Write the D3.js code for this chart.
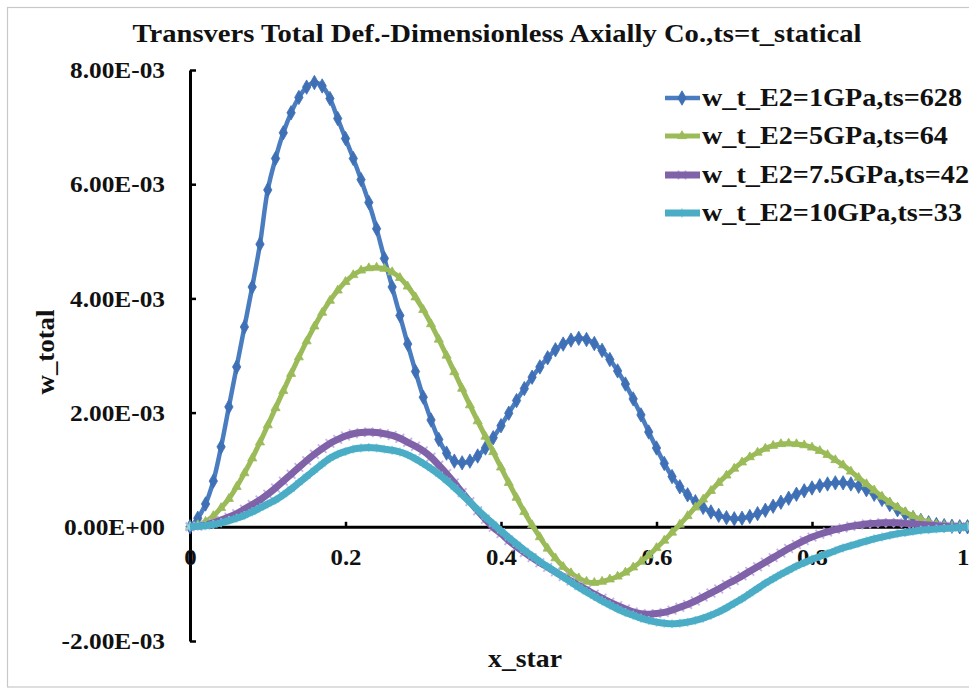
<!DOCTYPE html>
<html>
<head>
<meta charset="utf-8">
<script src="https://cdn.jsdelivr.net/npm/d3@7"></script>
<style>
  html, body { margin: 0; padding: 0; background: #fff; }
  svg { display: block; }
</style>
</head>
<body>
<svg id="chart" width="969" height="689"></svg>
<script>
// x_star sampling grid, 0 to 1 in steps of 0.01
const xStar = d3.range(101).map(i => i / 100);

// transverse total deflection, in units of 1e-3
const wE1 = [
  0, 0.15, 0.40, 0.80, 1.40, 2.10, 2.80, 3.50, 4.20, 4.95,
  5.90, 6.45, 6.90, 7.25, 7.52, 7.70, 7.78, 7.72, 7.50, 7.15,
  6.80, 6.45, 6.08, 5.68, 5.22, 4.70, 4.20, 3.70, 3.20, 2.72,
  2.27, 1.87, 1.53, 1.29, 1.15, 1.12, 1.15, 1.24, 1.38, 1.56,
  1.77, 1.99, 2.21, 2.42, 2.62, 2.80, 2.96, 3.10, 3.20, 3.27,
  3.30, 3.28, 3.21, 3.09, 2.93, 2.73, 2.50, 2.24, 1.96, 1.66,
  1.38, 1.11, 0.88, 0.70, 0.56, 0.44, 0.34, 0.26, 0.20, 0.16,
  0.14, 0.15, 0.18, 0.23, 0.29, 0.36, 0.43, 0.50, 0.57, 0.63,
  0.68, 0.72, 0.75, 0.77, 0.77, 0.75, 0.71, 0.65, 0.57, 0.48,
  0.39, 0.30, 0.22, 0.16, 0.11, 0.07, 0.04, 0.02, 0.01, 0.00,
  0.00
];
const wE5 = [
  0, 0.03, 0.09, 0.19, 0.33, 0.49, 0.70, 0.94, 1.20, 1.48,
  1.78, 2.08, 2.38, 2.68, 2.97, 3.25, 3.51, 3.75, 3.96, 4.14,
  4.29, 4.41, 4.49, 4.53, 4.54, 4.52, 4.46, 4.36, 4.21, 4.02,
  3.80, 3.55, 3.28, 3.00, 2.71, 2.42, 2.13, 1.85, 1.58, 1.31,
  1.04, 0.77, 0.51, 0.26, 0.03, -0.18, -0.38, -0.55, -0.70, -0.81,
  -0.90, -0.96, -0.98, -0.96, -0.92, -0.87, -0.80, -0.71, -0.61, -0.50,
  -0.37, -0.24, -0.10, 0.04, 0.19, 0.34, 0.48, 0.63, 0.77, 0.90,
  1.02, 1.13, 1.22, 1.30, 1.37, 1.42, 1.45, 1.46, 1.45, 1.43,
  1.39, 1.33, 1.26, 1.17, 1.08, 0.97, 0.86, 0.75, 0.64, 0.53,
  0.43, 0.34, 0.26, 0.19, 0.13, 0.08, 0.04, 0.02, 0.01, 0.00,
  0.00
];
const wE75 = [
  0, 0.01, 0.03, 0.07, 0.12, 0.17, 0.23, 0.31, 0.39, 0.47,
  0.57, 0.68, 0.80, 0.92, 1.04, 1.16, 1.27, 1.37, 1.46, 1.53,
  1.59, 1.63, 1.65, 1.66, 1.65, 1.63, 1.60, 1.55, 1.48, 1.41,
  1.33, 1.22, 1.08, 0.93, 0.77, 0.60, 0.44, 0.28, 0.13, -0.01,
  -0.12, -0.24, -0.35, -0.45, -0.54, -0.63, -0.71, -0.79, -0.87, -0.95,
  -1.03, -1.10, -1.18, -1.25, -1.32, -1.38, -1.44, -1.49, -1.52, -1.53,
  -1.52, -1.50, -1.46, -1.41, -1.36, -1.30, -1.23, -1.16, -1.09, -1.01,
  -0.94, -0.86, -0.78, -0.70, -0.62, -0.54, -0.46, -0.38, -0.31, -0.24,
  -0.18, -0.13, -0.09, -0.05, -0.02, 0.01, 0.03, 0.05, 0.06, 0.07,
  0.07, 0.07, 0.06, 0.05, 0.04, 0.03, 0.02, 0.01, 0.00, 0.00,
  0.00
];
const wE10 = [
  0, 0.01, 0.02, 0.04, 0.07, 0.11, 0.15, 0.20, 0.26, 0.33,
  0.40, 0.47, 0.56, 0.66, 0.77, 0.88, 0.99, 1.10, 1.20, 1.27,
  1.32, 1.36, 1.38, 1.39, 1.38, 1.36, 1.34, 1.31, 1.26, 1.19,
  1.11, 1.02, 0.92, 0.81, 0.69, 0.56, 0.43, 0.30, 0.17, 0.05,
  -0.07, -0.19, -0.30, -0.41, -0.51, -0.61, -0.70, -0.79, -0.88, -0.97,
  -1.06, -1.14, -1.22, -1.30, -1.37, -1.44, -1.50, -1.55, -1.60, -1.64,
  -1.67, -1.69, -1.70, -1.69, -1.67, -1.64, -1.60, -1.55, -1.49, -1.42,
  -1.34, -1.26, -1.17, -1.08, -0.99, -0.91, -0.83, -0.76, -0.69, -0.63,
  -0.57, -0.52, -0.47, -0.42, -0.37, -0.33, -0.29, -0.25, -0.21, -0.18,
  -0.15, -0.12, -0.10, -0.08, -0.06, -0.05, -0.04, -0.03, -0.02, -0.01,
  0.00
];

const seriesNames = [
  "w_t_E2=1GPa,ts=628",
  "w_t_E2=5GPa,ts=64",
  "w_t_E2=7.5GPa,ts=42",
  "w_t_E2=10GPa,ts=33"
];

const yTickValues = [-2, 0, 2, 4, 6, 8];
const yTickLabels = ["-2.00E-03", "0.00E+00", "2.00E-03", "4.00E-03", "6.00E-03", "8.00E-03"];
const xTickValues = [0, 0.2, 0.4, 0.6, 0.8, 1];
const xTickLabels = ["0", "0.2", "0.4", "0.6", "0.8", "1"];

const titleText = "Transvers Total Def.-Dimensionless Axially Co.,ts=t_statical";
const xTitle = "x_star";
const yTitle = "w_total";

const FONT = "'Liberation Serif', 'Times New Roman', Tinos, serif";

// series styling: colour, line width, marker shape
const styles = [
  { color: "#4a7dc0", width: 4.5, marker: d3.symbolDiamond, size: 60, fill: true, mcolor: "#3f70b5" },
  { color: "#9bbb59", width: 5, marker: d3.symbolTriangle, size: 36, fill: true, mcolor: "#9bbb59" },
  { color: "#7f62a8", width: 7, marker: d3.symbolTimes, size: 50, fill: false, mcolor: "#c0a6e6" },
  { color: "#4bacc6", width: 7, marker: d3.symbolAsterisk, size: 56, fill: false, mcolor: "#86dcef" }
];
const seriesValues = [wE1, wE5, wE75, wE10];

const svg = d3.select("#chart");

function textStyle(sel, size) {
  return sel.style("font-family", FONT).style("font-weight", "700")
    .style("font-size", size + "px").style("fill", "#111");
}
// horizontal stretch so a label group keeps its measured widths
function stretch(sel, factor) {
  sel.each(function () {
    const w = this.getComputedTextLength();
    this.setAttribute("textLength", w * factor);
    this.setAttribute("lengthAdjust", "spacingAndGlyphs");
  });
}
function factorFor(sel, width) {
  return width / sel.node().getComputedTextLength();
}
function fitTo(sel, width) {
  sel.attr("textLength", width).attr("lengthAdjust", "spacingAndGlyphs");
}

// outer frame
svg.append("rect")
  .attr("x", 7.5).attr("y", 7.5).attr("width", 990).attr("height", 679.5)
  .attr("fill", "none").attr("stroke", "#c8c8c8").attr("stroke-width", 1.2);

const x = d3.scaleLinear().domain([0, 1]).range([190, 967.5]);
const y = d3.scaleLinear().domain([-2, 8]).range([641, 70]);

// title
const t = textStyle(svg.append("text"), 26)
  .attr("x", 497).attr("y", 42)
  .attr("text-anchor", "middle")
  .text(titleText);
fitTo(t, 729);

// y axis
const yAxis = svg.append("g")
  .attr("transform", `translate(${x(0)},0)`)
  .call(d3.axisLeft(y)
    .tickValues(yTickValues)
    .tickFormat((d, i) => yTickLabels[i])
    .tickSizeInner(-6)
    .tickSizeOuter(0)
    .tickPadding(25));
yAxis.attr("font-family", null).attr("font-size", null);
yAxis.select(".domain").attr("stroke", "#000").attr("stroke-width", 3);
yAxis.selectAll(".tick line").attr("stroke", "#000").attr("stroke-width", 2.5);
const yLabels = textStyle(yAxis.selectAll(".tick text"), 24);
stretch(yLabels, factorFor(yLabels.filter((d) => d === 8), 95));

// x axis through zero
const xAxis = svg.append("g")
  .attr("transform", `translate(0,${y(0)})`)
  .call(d3.axisBottom(x)
    .tickValues(xTickValues)
    .tickFormat((d, i) => xTickLabels[i])
    .tickSizeInner(-5)
    .tickSizeOuter(0)
    .tickPadding(21));
xAxis.attr("font-family", null).attr("font-size", null);
xAxis.select(".domain").attr("stroke", "#000").attr("stroke-width", 3);
xAxis.selectAll(".tick line").attr("stroke", "#000").attr("stroke-width", 2.5);
const xLabels = textStyle(xAxis.selectAll(".tick text"), 24);
stretch(xLabels, factorFor(xLabels.filter((d) => d === 0.2), 31));
// last label sits flush with the right edge
xLabels.filter((d) => d === 1).attr("text-anchor", "end").attr("x", 969 - x(1));

// axis titles
const yt = textStyle(svg.append("text"), 26)
  .attr("transform", "translate(54,352) rotate(-90)")
  .attr("text-anchor", "middle")
  .text(yTitle);
fitTo(yt, 85);
const xt = textStyle(svg.append("text"), 26)
  .attr("x", 525).attr("y", 667)
  .attr("text-anchor", "middle")
  .text(xTitle);
fitTo(xt, 74);

// series lines and markers
const line = d3.line()
  .x((d, i) => x(xStar[i]))
  .y(d => y(d))
  .curve(d3.curveCatmullRom);

seriesValues.forEach((vals, k) => {
  const s = styles[k];
  const g = svg.append("g");
  const sym = d3.symbol().type(s.marker).size(s.size);
  if (!s.fill) {
    g.selectAll("path.m").data(vals).join("path")
      .attr("class", "m")
      .attr("transform", (d, i) => `translate(${x(xStar[i])},${y(d)})`)
      .attr("d", sym)
      .attr("fill", "none")
      .attr("stroke", s.mcolor)
      .attr("stroke-width", 1.8)
      .attr("opacity", 0.85);
  }
  g.append("path")
    .datum(vals)
    .attr("d", line)
    .attr("fill", "none")
    .attr("stroke", s.color)
    .attr("stroke-width", s.width)
    .attr("stroke-linejoin", "round");
  if (s.fill) {
    g.selectAll("path.m").data(vals).join("path")
      .attr("class", "m")
      .attr("transform", (d, i) => `translate(${x(xStar[i])},${y(d)})`)
      .attr("d", sym)
      .attr("fill", s.mcolor)
      .attr("stroke", s.mcolor)
      .attr("stroke-width", 0.8);
  }
});

// legend
const legendRows = [98, 136, 175, 213];
const legendTexts = [];
seriesNames.forEach((name, k) => {
  const s = styles[k];
  const g = svg.append("g").attr("transform", `translate(0,${legendRows[k]})`);
  const sym = d3.symbol().type(s.marker).size(s.size);
  if (!s.fill) {
    g.append("path").attr("transform", "translate(682,0)").attr("d", sym)
      .attr("fill", "none").attr("stroke", s.mcolor).attr("stroke-width", 1.8).attr("opacity", 0.85);
  }
  g.append("line").attr("x1", 665).attr("x2", 700).attr("y1", 0).attr("y2", 0)
    .attr("stroke", s.color).attr("stroke-width", s.width);
  if (s.fill) {
    g.append("path").attr("transform", "translate(682,0)").attr("d", sym)
      .attr("fill", s.mcolor).attr("stroke", s.mcolor).attr("stroke-width", 0.8);
  }
  legendTexts.push(textStyle(g.append("text"), 25)
    .attr("x", 702).attr("y", 8)
    .text(name));
});
const legendFactor = factorFor(legendTexts[0], 260);
legendTexts.forEach(tx => stretch(tx, legendFactor));
</script>
</body>
</html>
